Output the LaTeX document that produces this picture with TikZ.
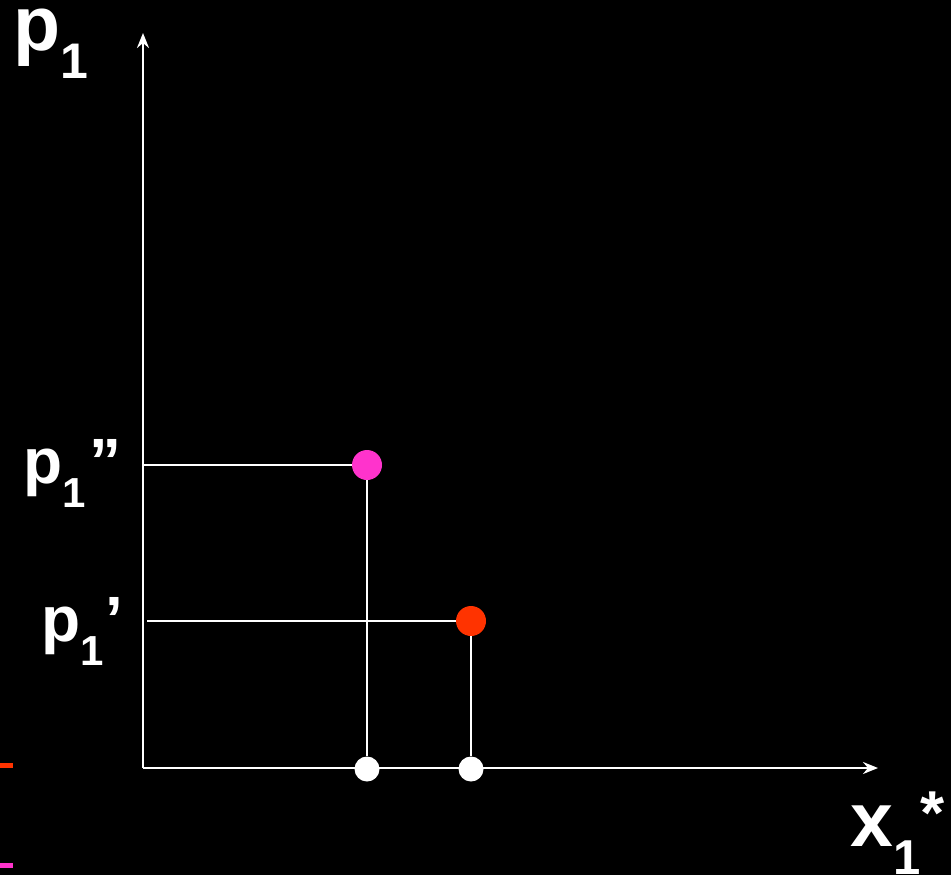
\documentclass[tikz,border=0pt]{standalone}
\usepackage{fontspec}
\setmainfont{Liberation Sans}
\usetikzlibrary{arrows.meta}
\definecolor{magdot}{HTML}{FF33CC}
\definecolor{reddot}{HTML}{FF3300}
\tikzset{
  axis/.style={draw=white, line width=2.7pt, -{Stealth[length=15pt,width=12pt,inset=5pt]}},
  guide/.style={draw=white, line width=2.7pt},
  dot/.style={circle, inner sep=0pt, minimum size=#1},
  lbl/.style={text=white, inner sep=0pt, anchor=base west, font=\bfseries},
}
\newcommand{\fsz}[1]{\fontsize{#1}{#1}\selectfont}
\begin{document}
\begin{tikzpicture}[x=1pt,y=-1pt]
\fill[black] (0,0) rectangle (951,875);
\useasboundingbox (0,0) rectangle (951,875);
% small marks at left
\fill[reddot] (0,763) rectangle (13,768);
\fill[magdot] (0,863) rectangle (13,868);
% axes
\coordinate (O) at (143,768);
\coordinate (ytip) at (143,33);
\coordinate (xtip) at (878,768);
\draw[axis] (O) -- (ytip);
\draw[axis] (O) -- (xtip);
% points
\node[dot=30pt, fill=magdot] (pm) at (367,465) {};
\node[dot=30pt, fill=reddot] (pr) at (471,621) {};
\node[dot=25pt, fill=white] (bm) at (367,769) {};
\node[dot=25pt, fill=white] (br) at (471,769) {};
\coordinate (lm) at (143,465);
\coordinate (lr) at (147,621);
\draw[guide] (lm) -- (pm.west);
\draw[guide] (lr) -- (pr.west);
\draw[guide] (pm.south) -- (bm.north);
\draw[guide] (pr.south) -- (br.north);
% labels
\node[lbl] (py) at (13,51) {\fsz{77}p\fsz{50}\raisebox{-28pt}{1}};
\node[lbl] (pdd) at (23,483) {\fsz{64}p\fsz{42}\raisebox{-24pt}{1}\fsz{64}\hspace{4pt}”};
\node[lbl] (pd) at (41,641) {\fsz{64}p\fsz{42}\raisebox{-24pt}{1}\fsz{64}\hspace{2pt}’};
\node[lbl] (xl) at (850,846) {\fsz{77}x\fsz{49}\raisebox{-28pt}{1}\fsz{62}\raisebox{12pt}{*}};
\end{tikzpicture}
\end{document}
